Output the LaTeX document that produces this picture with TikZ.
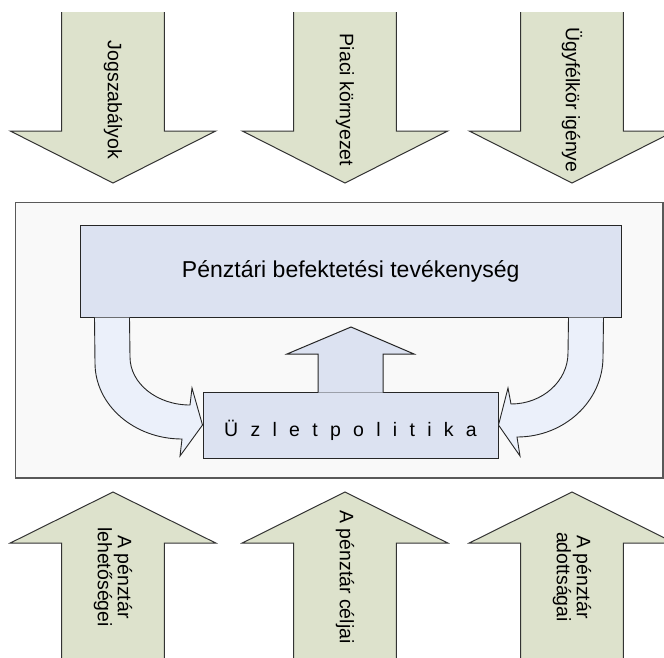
\documentclass[tikz,border=0pt]{standalone}
\usepackage{fontspec}
\setmainfont{Liberation Sans}
\usetikzlibrary{calc}

\definecolor{sage}{RGB}{221,226,204}
\definecolor{lavender}{RGB}{220,226,241}
\definecolor{paleblue}{RGB}{235,240,250}
\definecolor{panelgray}{RGB}{249,249,249}

% wide letter spacing for the policy box
\newcommand{\widespaced}[1]{{\spaceskip=0.63em\relax #1}}

\begin{document}
\begin{tikzpicture}[x=1pt, y=-1pt,
    panel/.style={rectangle, draw=black!65, line width=1.5pt, fill=panelgray, minimum width=647.3pt, minimum height=275.5pt},
    block/.style={rectangle, draw=black!85, line width=1pt, fill=lavender, inner sep=0pt},
    bigarrow/.style={draw=black!80, line width=1pt, fill=sage},
    bendarrow/.style={draw=black!85, line width=0.9pt, fill=paleblue},
    uparrow/.style={draw=black!85, line width=1pt, fill=lavender},
    arrowtext/.style={rotate=-90, align=center, inner sep=0pt, font=\fontsize{19.5}{20}\selectfont}
]
\useasboundingbox (0,0) rectangle (664,657);

% Light panel behind the two boxes
\node (panel) [panel] at (339.35,340.25) {};

% Row 1: outside influences (pointing down)
\filldraw[bigarrow] (61.7,12) -- (61.7,131) -- (10.3,131) -- (113,183) -- (215.7,131) -- (164.3,131) -- (164.3,12);
\node (jog) [arrowtext] at (113,100) {Jogszabályok};
\filldraw[bigarrow] (293.7,12) -- (293.7,131) -- (242.3,131) -- (345,183) -- (447.7,131) -- (396.3,131) -- (396.3,12);
\node (piac) [arrowtext] at (345,100) {Piaci környezet};
\filldraw[bigarrow] (520.7,12) -- (520.7,131) -- (469.3,131) -- (572,183) -- (674.7,131) -- (623.3,131) -- (623.3,12);
\node (ugyf) [arrowtext] at (572,100) {Ügyfélkör igénye};

% Row 3: the fund's own side (pointing up)
\filldraw[bigarrow] (61.7,670) -- (61.7,543) -- (10.3,543) -- (113,492) -- (215.7,543) -- (164.3,543) -- (164.3,670);
\node (lehet) [arrowtext] at (113,577) {A pénztár\\lehetőségei};
\filldraw[bigarrow] (293.7,670) -- (293.7,543) -- (242.3,543) -- (345,492) -- (447.7,543) -- (396.3,543) -- (396.3,670);
\node (celj) [arrowtext] at (345,577) {A pénztár céljai};
\filldraw[bigarrow] (520.7,670) -- (520.7,543) -- (469.3,543) -- (572,492) -- (674.7,543) -- (623.3,543) -- (623.3,670);
\node (adott) [arrowtext] at (572,577) {A pénztár\\adottságai};

% Row 2: activity and business policy
\node (tev) [block, minimum width=540.5pt, minimum height=91.5pt, font=\fontsize{23}{26}\selectfont] at (350.75,271.25) {Pénztári befektetési tevékenység};
\node (uzlet) [block, minimum width=295pt, minimum height=66pt, text height=22pt, text depth=0pt, font=\fontsize{19.5}{22}\selectfont] at (350.5,425) {\widespaced{Ü z l e t p o l i t i k a}};

% Bent arrows from the activity down to the policy
\filldraw[bendarrow] ($(tev.south west)+(14.5,0)$) -- (95,363) .. controls (95,405) and (134,439) .. (182,439) -- (180,456) -- (uzlet.west) -- (192,388) -- (190,405) .. controls (157,405) and (130,383.5) .. (130,357) -- ($(tev.south west)+(49.5,0)$);
\filldraw[bendarrow] ($(tev.south east)+(-18,0)$) -- (603,357) .. controls (603,401) and (564.5,437) .. (517,437) -- (520,456) -- (uzlet.east) -- (508,388) -- (511,404) .. controls (542.5,404) and (568,381) .. (568,353) -- ($(tev.south east)+(-53,0)$);

% Policy feeds back up
\filldraw[uparrow] ($(uzlet.north)+(-32.5,1)$) -- (318,354) -- (287,354) -- (351,327) -- (414,354) -- (383,354) -- ($(uzlet.north)+(32.5,1)$);

\end{tikzpicture}
\end{document}
